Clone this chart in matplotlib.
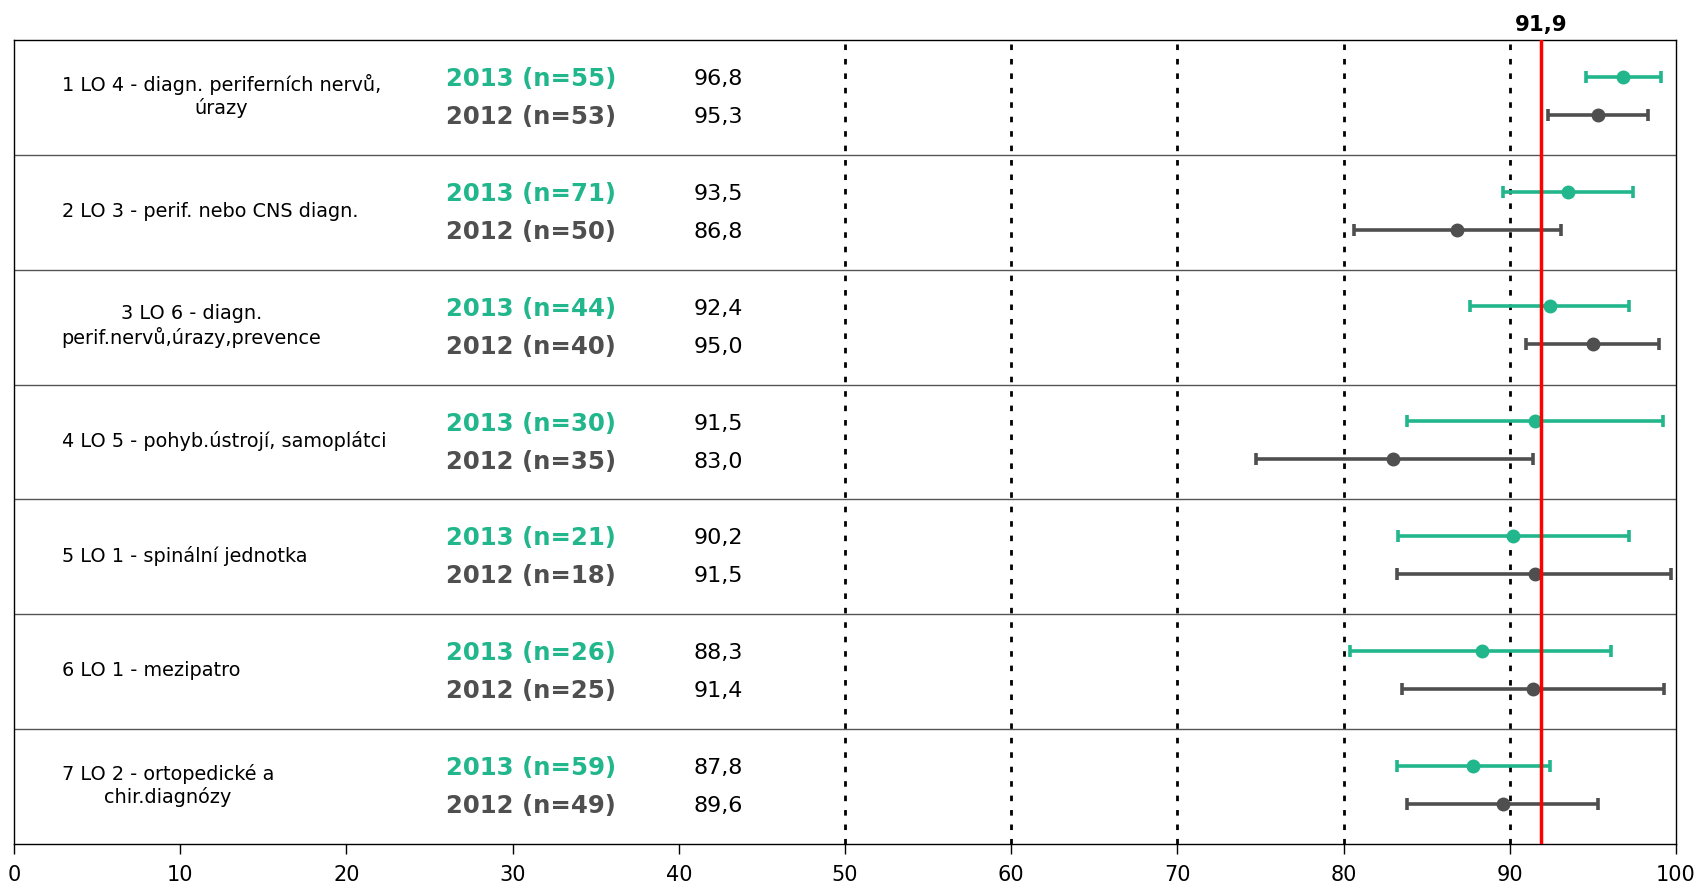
import matplotlib.pyplot as plt
import numpy as np
import matplotlib

matplotlib.rc('font', family='DejaVu Sans')

# data
labels = ['1 LO 4 - diagn. periferních nervů,\núrazy',
          '2 LO 3 - perif. nebo CNS diagn.',
          '3 LO 6 - diagn.\nperif.nervů,úrazy,prevence',
          '4 LO 5 - pohyb.ústrojí, samoplátci',
          '5 LO 1 - spinální jednotka',
          '6 LO 1 - mezipatro',
          '7 LO 2 - ortopedické a\nchir.diagnózy']
n_2013 = [55, 71, 44, 30, 21, 26, 59]
n_2012 = [53, 50, 40, 35, 18, 25, 49]
val_2013 = [96.8, 93.5, 92.4, 91.5, 90.2, 88.3, 87.8]
val_2012 = [95.3, 86.8, 95.0, 83.0, 91.5, 91.4, 89.6]
lo_2013 = [94.6, 89.6, 87.6, 83.8, 83.3, 80.4, 83.2]
hi_2013 = [99.1, 97.4, 97.2, 99.2, 97.2, 96.1, 92.4]
lo_2012 = [92.3, 80.6, 91.0, 74.7, 83.2, 83.5, 83.8]
hi_2012 = [98.3, 93.1, 99.0, 91.4, 99.7, 99.3, 95.3]
reference = 91.9
grid_x = [50, 60, 70, 80, 90]

green = '#21b68b'
gray = '#4f4f4f'

fig = plt.figure(figsize=(16.96, 8.91), dpi=100)
ax = fig.add_axes([14/1696, 1-844/891, (1676-14)/1696, (844-40)/891])

rows = np.arange(len(labels))
y13 = rows + 0.32
y12 = rows + 0.65

for x in grid_x:
    ax.axvline(x, color='black', lw=2.0, dashes=(2.0, 3.2), zorder=1)
for r in rows[1:]:
    ax.axhline(r, color='#555555', lw=1.0, zorder=1)

ax.errorbar(val_2013, y13,
            xerr=[np.array(val_2013) - np.array(lo_2013), np.array(hi_2013) - np.array(val_2013)],
            fmt='o', color=green, ms=9, lw=2.6, capsize=4.3, capthick=2.6, zorder=3)
ax.errorbar(val_2012, y12,
            xerr=[np.array(val_2012) - np.array(lo_2012), np.array(hi_2012) - np.array(val_2012)],
            fmt='o', color=gray, ms=9, lw=2.6, capsize=4.3, capthick=2.6, zorder=3)

ax.axvline(reference, color='#ff0000', lw=2.5, zorder=4)
ax.text(reference, -0.04, ('%.1f' % reference).replace('.', ','), ha='center', va='bottom',
        fontsize=15.3, fontweight='bold')

for i in rows:
    ax.text(2.87, i + 0.49, labels[i], ha='left', va='center', multialignment='center', fontsize=13.9)
    ax.text(26.0, y13[i] + 0.02, '2013 (n=%d)' % n_2013[i], ha='left', va='center',
            fontsize=17.6, fontweight='bold', color=green)
    ax.text(26.0, y12[i] + 0.02, '2012 (n=%d)' % n_2012[i], ha='left', va='center',
            fontsize=17.6, fontweight='bold', color=gray)
    ax.text(40.9, y13[i] + 0.02, ('%.1f' % val_2013[i]).replace('.', ','), ha='left', va='center', fontsize=16)
    ax.text(40.9, y12[i] + 0.02, ('%.1f' % val_2012[i]).replace('.', ','), ha='left', va='center', fontsize=16)

ax.set_xlim(0, 100)
ax.set_ylim(len(labels), 0)
ax.set_xticks(np.arange(0, 101, 10))
ax.set_yticks([])
ax.tick_params(axis='x', labelsize=15, length=7, width=1, pad=8)
for s in ax.spines.values():
    s.set_linewidth(1.0)

fig.savefig('out.png', dpi=100)
